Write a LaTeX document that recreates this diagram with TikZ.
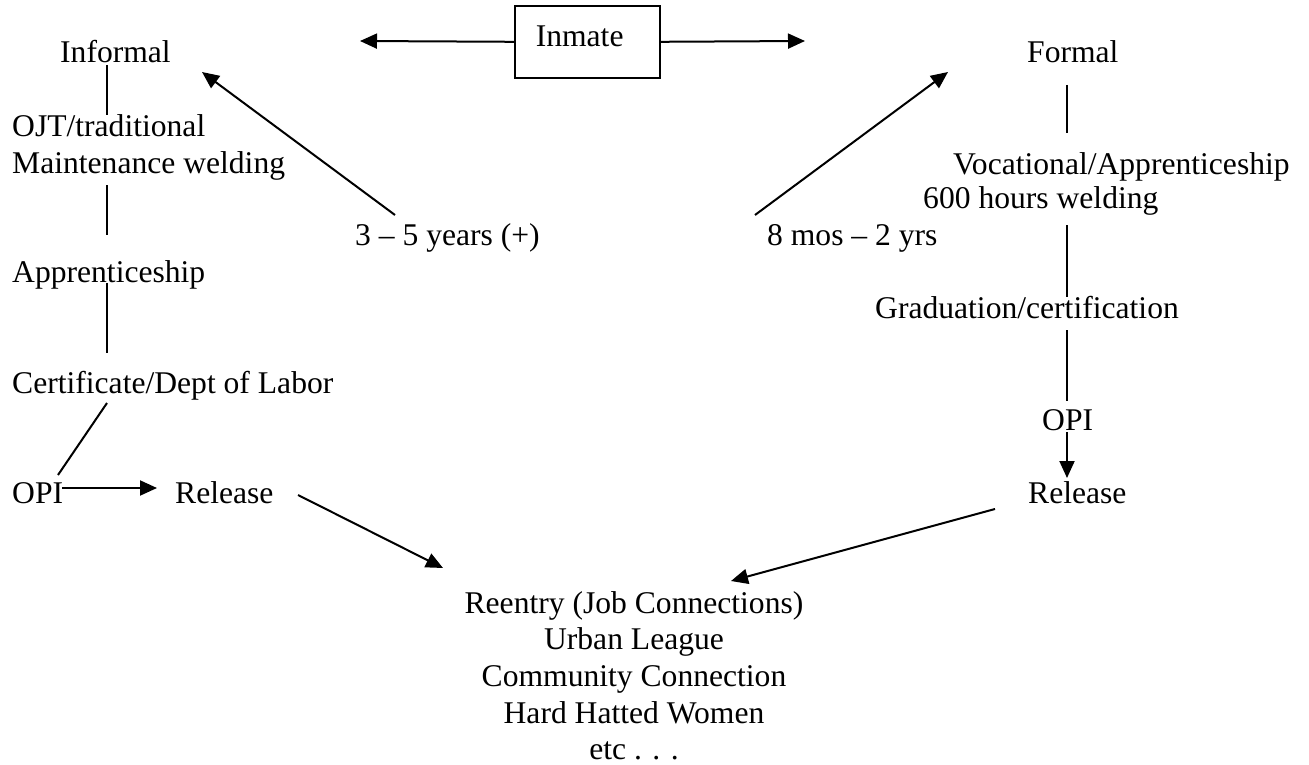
\documentclass[tikz,border=0pt]{standalone}
\usepackage{fontspec}
\setmainfont{Liberation Serif}
\usepackage{tikz}
\usetikzlibrary{arrows.meta,calc}

\tikzset{
	lbl/.style={anchor=base west, inner sep=0pt},
	ln/.style={line width=2pt},
	arr/.style={ln, -{Triangle[length=17pt,width=15pt]}}
}

\begin{document}
\begin{tikzpicture}[x=1pt, y=-1pt, font=\fontsize{31.6}{36.7}\selectfont]
	\useasboundingbox (0,0) rectangle (1309,765);

	% box in the middle
	\node[draw, line width=1.6pt, anchor=north west, inner xsep=21pt, inner ysep=10pt,
		text width=103pt, text height=31pt, text depth=21pt, align=left] (inmate) at (514,5) {Inmate};

	% informal side
	\node[lbl] (inf) at (60,63) {Informal};
	\node[lbl] (ojt) at (12,137) {OJT/traditional};
	\node[lbl] (maint) at (12,173) {Maintenance welding};
	\node[lbl] (appr) at (12,282) {Apprenticeship};
	\node[lbl] (cert) at (12,393) {Certificate/Dept of Labor};
	\node[lbl] (opiL) at (12,503) {OPI};
	\node[lbl] (relL) at (175,503) {Release};
	\node[lbl] (yrsL) at (355,245) {3 – 5 years (+)};

	% formal side
	\node[lbl] (formal) at (1027,63) {Formal};
	\node[lbl] (voc) at (953,175) {Vocational/Apprenticeship};
	\node[lbl] (hrs) at (923,208) {600 hours welding};
	\node[lbl] (grad) at (875,318) {Graduation/certification};
	\node[lbl] (opiR) at (1042,430) {OPI};
	\node[lbl] (relR) at (1028,503) {Release};
	\node[lbl] (yrsR) at (767,245) {8 mos – 2 yrs};

	% reentry
	\foreach \t [count=\i] in {Reentry (Job Connections), Urban League, Community Connection, Hard Hatted Women, etc . . .}
		\node[anchor=base, inner sep=0pt] (re\i) at (634,{613+36.7*(\i-1)}) {\t};

	% line ends
	\foreach \n/\x/\y in {inL/360/41, inR/805/41,
			l1/107/65, l2/107/115, l3/107/185, l4/107/235, l5/107/283, l6/107/353, l7/107/403, l8/58/475,
			oL/62/488, oR/157/488, yL/395/215, yLt/202/72, yR/755/215, yRt/948/72,
			rL/298/495, rLt/443/568, rR/995/509, rRt/731/581,
			r1/1067/85, r2/1067/133, r3/1067/225, r4/1067/297, r5/1067/330, r6/1067/401, r7/1067/432, r8/1067/478}
		\coordinate (\n) at (\x,\y);

	\draw[arr] (inmate.west) -- (inL);
	\draw[arr] (inmate.east) -- (inR);
	\draw[ln] (l1) -- (l2);
	\draw[ln] (l3) -- (l4);
	\draw[ln] (l5) -- (l6);
	\draw[ln] (l7) -- (l8);
	\draw[arr] (oL) -- (oR);
	\draw[arr] (yL) -- (yLt);
	\draw[arr] (yR) -- (yRt);
	\draw[arr] (rL) -- (rLt);
	\draw[arr] (rR) -- (rRt);
	\draw[ln] (r1) -- (r2);
	\draw[ln] (r3) -- (r4);
	\draw[ln] (r5) -- (r6);
	\draw[arr] (r7) -- (r8);
\end{tikzpicture}
\end{document}
